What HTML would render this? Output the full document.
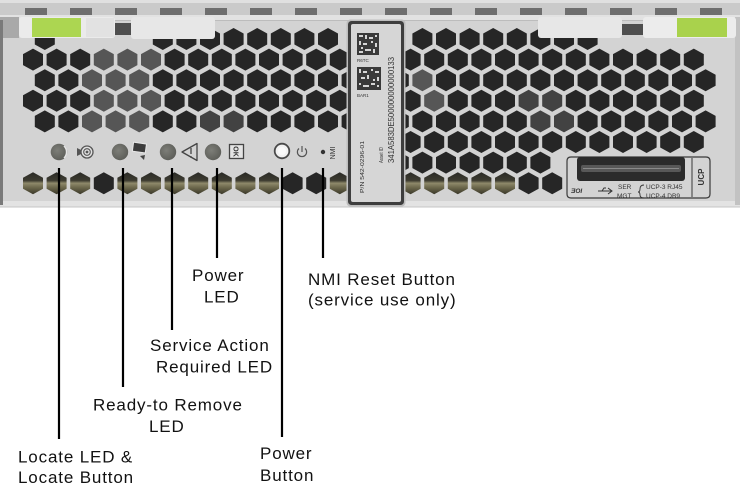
<!DOCTYPE html>
<html><head><meta charset="utf-8"><style>
html,body{margin:0;padding:0;background:#fff;}
svg{display:block;}
</style></head><body>
<svg width="740" height="495" viewBox="0 0 740 495" xmlns="http://www.w3.org/2000/svg">
<defs>
 <path id="h" d="M0,-11L10,-5.5L10,5.5L0,11L-10,5.5L-10,-5.5Z"/>
 <linearGradient id="ol" x1="0" y1="0" x2="0" y2="1">
  <stop offset="0" stop-color="#2a2a26"/>
  <stop offset="0.38" stop-color="#3d3b30"/>
  <stop offset="0.5" stop-color="#8e896a"/>
  <stop offset="0.68" stop-color="#6f6a4e"/>
  <stop offset="1" stop-color="#3a3829"/>
 </linearGradient>
 <radialGradient id="led" cx="0.4" cy="0.4" r="0.65"><stop offset="0" stop-color="#7d7e78"/><stop offset="1" stop-color="#5c5d58"/></radialGradient>
</defs>
<rect width="740" height="495" fill="#fff"/>
<!-- panel body -->
<rect x="0" y="0" width="740" height="202" fill="#d3d3d3"/>
<rect x="0" y="201" width="740" height="6" fill="#e3e3e3"/>
<rect x="0" y="206.5" width="740" height="1" fill="#c4c4c4"/>
<!-- top rail -->
<rect x="0" y="0" width="740" height="17" fill="#cacaca"/>
<rect x="0" y="0" width="740" height="3" fill="#e0e0e0"/>
<g fill="#6e6e6e">
<rect x="25" y="8" width="22" height="7"/><rect x="70" y="8" width="22" height="7"/><rect x="115" y="8" width="22" height="7"/><rect x="160" y="8" width="22" height="7"/><rect x="205" y="8" width="22" height="7"/><rect x="250" y="8" width="22" height="7"/><rect x="295" y="8" width="22" height="7"/><rect x="340" y="8" width="22" height="7"/><rect x="385" y="8" width="22" height="7"/><rect x="430" y="8" width="22" height="7"/><rect x="475" y="8" width="22" height="7"/><rect x="520" y="8" width="22" height="7"/><rect x="565" y="8" width="22" height="7"/><rect x="610" y="8" width="22" height="7"/><rect x="655" y="8" width="22" height="7"/><rect x="700" y="8" width="22" height="7"/>
</g>
<rect x="0" y="15" width="740" height="5" fill="#e2e2e2"/>
<rect x="0" y="20" width="740" height="1" fill="#bcbcbc"/>

<!-- hex holes dark -->
<g fill="#262626">
<use href="#h" x="44.8" y="39"/><use href="#h" x="162.8" y="39"/><use href="#h" x="186.4" y="39"/><use href="#h" x="210" y="39"/><use href="#h" x="233.6" y="39"/><use href="#h" x="257.2" y="39"/><use href="#h" x="280.8" y="39"/><use href="#h" x="304.4" y="39"/><use href="#h" x="328" y="39"/>
<use href="#h" x="422.4" y="39"/><use href="#h" x="446" y="39"/><use href="#h" x="469.6" y="39"/><use href="#h" x="493.2" y="39"/><use href="#h" x="516.8" y="39"/><use href="#h" x="540.4" y="39"/><use href="#h" x="564" y="39"/><use href="#h" x="587.6" y="39"/>

<use href="#h" x="33" y="59.6"/><use href="#h" x="56.6" y="59.6"/><use href="#h" x="80.2" y="59.6"/><use href="#h" x="174.6" y="59.6"/><use href="#h" x="198.2" y="59.6"/><use href="#h" x="221.8" y="59.6"/><use href="#h" x="245.4" y="59.6"/><use href="#h" x="269" y="59.6"/><use href="#h" x="292.6" y="59.6"/><use href="#h" x="316.2" y="59.6"/><use href="#h" x="339.8" y="59.6"/>
<use href="#h" x="410.6" y="59.6"/><use href="#h" x="434.2" y="59.6"/><use href="#h" x="457.8" y="59.6"/><use href="#h" x="481.4" y="59.6"/><use href="#h" x="505" y="59.6"/><use href="#h" x="528.6" y="59.6"/><use href="#h" x="552.2" y="59.6"/><use href="#h" x="575.8" y="59.6"/><use href="#h" x="599.4" y="59.6"/><use href="#h" x="623" y="59.6"/><use href="#h" x="646.6" y="59.6"/><use href="#h" x="670.2" y="59.6"/><use href="#h" x="693.8" y="59.6"/>

<use href="#h" x="44.8" y="80.2"/><use href="#h" x="68.4" y="80.2"/><use href="#h" x="162.8" y="80.2"/><use href="#h" x="186.4" y="80.2"/><use href="#h" x="210" y="80.2"/><use href="#h" x="233.6" y="80.2"/><use href="#h" x="257.2" y="80.2"/><use href="#h" x="280.8" y="80.2"/><use href="#h" x="304.4" y="80.2"/><use href="#h" x="328" y="80.2"/><use href="#h" x="351.6" y="80.2"/>
<use href="#h" x="398.8" y="80.2"/><use href="#h" x="446" y="80.2"/><use href="#h" x="469.6" y="80.2"/><use href="#h" x="493.2" y="80.2"/><use href="#h" x="516.8" y="80.2"/><use href="#h" x="540.4" y="80.2"/><use href="#h" x="564" y="80.2"/><use href="#h" x="587.6" y="80.2"/><use href="#h" x="611.2" y="80.2"/><use href="#h" x="634.8" y="80.2"/><use href="#h" x="658.4" y="80.2"/><use href="#h" x="682" y="80.2"/><use href="#h" x="705.6" y="80.2"/>

<use href="#h" x="33" y="100.8"/><use href="#h" x="56.6" y="100.8"/><use href="#h" x="80.2" y="100.8"/><use href="#h" x="174.6" y="100.8"/><use href="#h" x="198.2" y="100.8"/><use href="#h" x="221.8" y="100.8"/><use href="#h" x="245.4" y="100.8"/><use href="#h" x="269" y="100.8"/><use href="#h" x="292.6" y="100.8"/><use href="#h" x="316.2" y="100.8"/><use href="#h" x="339.8" y="100.8"/>
<use href="#h" x="410.6" y="100.8"/><use href="#h" x="457.8" y="100.8"/><use href="#h" x="481.4" y="100.8"/><use href="#h" x="505" y="100.8"/><use href="#h" x="575.8" y="100.8"/><use href="#h" x="599.4" y="100.8"/><use href="#h" x="623" y="100.8"/><use href="#h" x="646.6" y="100.8"/><use href="#h" x="670.2" y="100.8"/><use href="#h" x="693.8" y="100.8"/>

<use href="#h" x="44.8" y="121.4"/><use href="#h" x="68.4" y="121.4"/><use href="#h" x="162.8" y="121.4"/><use href="#h" x="186.4" y="121.4"/><use href="#h" x="257.2" y="121.4"/><use href="#h" x="280.8" y="121.4"/><use href="#h" x="304.4" y="121.4"/><use href="#h" x="328" y="121.4"/><use href="#h" x="351.6" y="121.4"/>
<use href="#h" x="398.8" y="121.4"/><use href="#h" x="422.4" y="121.4"/><use href="#h" x="446" y="121.4"/><use href="#h" x="469.6" y="121.4"/><use href="#h" x="493.2" y="121.4"/><use href="#h" x="516.8" y="121.4"/><use href="#h" x="587.6" y="121.4"/><use href="#h" x="611.2" y="121.4"/><use href="#h" x="634.8" y="121.4"/><use href="#h" x="658.4" y="121.4"/><use href="#h" x="682" y="121.4"/><use href="#h" x="705.6" y="121.4"/>

<use href="#h" x="410.6" y="142"/><use href="#h" x="434.2" y="142"/><use href="#h" x="457.8" y="142"/><use href="#h" x="481.4" y="142"/><use href="#h" x="505" y="142"/><use href="#h" x="528.6" y="142"/><use href="#h" x="552.2" y="142"/><use href="#h" x="575.8" y="142"/><use href="#h" x="599.4" y="142"/><use href="#h" x="623" y="142"/><use href="#h" x="646.6" y="142"/><use href="#h" x="670.2" y="142"/><use href="#h" x="693.8" y="142"/>

<use href="#h" x="398.8" y="162.6"/><use href="#h" x="422.4" y="162.6"/><use href="#h" x="446" y="162.6"/><use href="#h" x="469.6" y="162.6"/><use href="#h" x="493.2" y="162.6"/><use href="#h" x="516.8" y="162.6"/><use href="#h" x="540.4" y="162.6"/>

<use href="#h" x="103.8" y="183.2"/><use href="#h" x="292.6" y="183.2"/><use href="#h" x="316.2" y="183.2"/><use href="#h" x="528.6" y="183.2"/><use href="#h" x="552.2" y="183.2"/>
</g>
<!-- gray holes -->
<g fill="#565656">
<use href="#h" x="103.8" y="59.6"/><use href="#h" x="127.4" y="59.6"/><use href="#h" x="151" y="59.6"/>
<use href="#h" x="92" y="80.2"/><use href="#h" x="115.6" y="80.2"/><use href="#h" x="139.2" y="80.2"/><use href="#h" x="422.4" y="80.2"/>
<use href="#h" x="103.8" y="100.8"/><use href="#h" x="127.4" y="100.8"/><use href="#h" x="151" y="100.8"/><use href="#h" x="434.2" y="100.8"/>
<use href="#h" x="92" y="121.4"/><use href="#h" x="115.6" y="121.4"/><use href="#h" x="139.2" y="121.4"/>
</g>
<g fill="#424242">
<use href="#h" x="210" y="121.4"/><use href="#h" x="233.6" y="121.4"/>
<use href="#h" x="528.6" y="100.8"/><use href="#h" x="552.2" y="100.8"/>
<use href="#h" x="540.4" y="121.4"/><use href="#h" x="564" y="121.4"/>
</g>
<!-- bottom olive row -->
<g fill="url(#ol)">
<use href="#h" x="33" y="183.2"/><use href="#h" x="56.6" y="183.2"/><use href="#h" x="80.2" y="183.2"/><use href="#h" x="127.4" y="183.2"/><use href="#h" x="151" y="183.2"/><use href="#h" x="174.6" y="183.2"/><use href="#h" x="198.2" y="183.2"/><use href="#h" x="221.8" y="183.2"/><use href="#h" x="245.4" y="183.2"/><use href="#h" x="269" y="183.2"/><use href="#h" x="339.8" y="183.2"/>
<use href="#h" x="410.6" y="183.2"/><use href="#h" x="434.2" y="183.2"/><use href="#h" x="457.8" y="183.2"/><use href="#h" x="481.4" y="183.2"/><use href="#h" x="505" y="183.2"/>
</g>

<!-- left edge -->
<rect x="0" y="17" width="19" height="21" fill="#a9a9a9"/>
<rect x="0" y="20" width="3" height="185" fill="#7a7a7a"/>
<rect x="735" y="17" width="5" height="188" fill="#c2c2c2"/>

<!-- tabs -->
<rect x="19" y="17" width="96" height="21" rx="3" fill="#ebebeb"/>
<rect x="32" y="18" width="49" height="19" fill="#acd651"/>
<rect x="86" y="18" width="28" height="19" fill="#e2e2e2"/>
<rect x="115" y="23" width="16" height="12" fill="#4e4e4e"/>
<rect x="131" y="17" width="84" height="22" rx="3" fill="#e7e7e7"/>
<rect x="538" y="17" width="84" height="21" rx="3" fill="#e7e7e7"/>
<rect x="622" y="24" width="21" height="11" fill="#4e4e4e"/>
<rect x="643" y="17" width="93" height="21" rx="3" fill="#ececec"/>
<rect x="677" y="18" width="50" height="19" fill="#a9d24c"/>

<!-- asset label -->
<rect x="346.5" y="19.5" width="59" height="187" rx="4" fill="#bdbdbd"/>
<rect x="348" y="21" width="56" height="184" rx="3.5" fill="#3e3e3e"/>
<rect x="351" y="24" width="50" height="178" rx="2" fill="#d6d6d6"/>
<rect x="357" y="33" width="22" height="22" fill="#3a3a3a"/>
<g fill="#d6d6d6">
<rect x="359" y="35" width="4" height="2"/><rect x="365" y="35" width="2" height="4"/><rect x="369" y="37" width="4" height="2"/><rect x="375" y="35" width="2" height="2"/>
<rect x="359" y="41" width="2" height="4"/><rect x="363" y="43" width="4" height="2"/><rect x="371" y="41" width="2" height="2"/><rect x="375" y="43" width="2" height="4"/>
<rect x="361" y="47" width="2" height="2"/><rect x="365" y="49" width="6" height="2"/><rect x="373" y="49" width="2" height="4"/><rect x="359" y="51" width="4" height="2"/>
</g>
<rect x="357" y="67" width="24" height="23" fill="#3a3a3a"/>
<g fill="#d6d6d6">
<rect x="359" y="69" width="2" height="4"/><rect x="363" y="71" width="4" height="2"/><rect x="371" y="69" width="2" height="2"/><rect x="375" y="71" width="4" height="2"/>
<rect x="361" y="77" width="4" height="2"/><rect x="367" y="75" width="2" height="4"/><rect x="373" y="79" width="2" height="2"/><rect x="377" y="77" width="2" height="4"/>
<rect x="359" y="83" width="2" height="2"/><rect x="363" y="85" width="6" height="2"/><rect x="371" y="83" width="4" height="2"/><rect x="377" y="85" width="2" height="2"/>
</g>
<g font-family="Liberation Sans, Arial, sans-serif" fill="#333">
<text x="357" y="62" font-size="4.5">R6TC</text>
<text x="357" y="97" font-size="4.5">BAR1</text>
<text transform="translate(364,193) rotate(-90)" font-size="5.5" textLength="52" lengthAdjust="spacingAndGlyphs">P/N 542-0296-01</text>
<text transform="translate(383,163) rotate(-90)" font-size="5.5" textLength="16" lengthAdjust="spacingAndGlyphs">Asset ID</text>
<text transform="translate(394,163) rotate(-90)" font-size="8" textLength="106" lengthAdjust="spacingAndGlyphs">341A583DE500000000000133</text>
</g>

<!-- UCP box -->
<path d="M571,157H706Q710,157 710,161V194Q710,198 706,198H571Q567,198 567,194V161Q567,157 571,157Z" fill="none" stroke="#3a3a3a" stroke-width="1.2"/>
<line x1="692" y1="158" x2="692" y2="197" stroke="#3a3a3a" stroke-width="1"/>
<rect x="577" y="157" width="108" height="24" rx="3" fill="#2b2b2b"/>
<rect x="581" y="165" width="100" height="7" rx="2" fill="#585858"/>
<line x1="583" y1="168.5" x2="679" y2="168.5" stroke="#8a8a8a" stroke-width="1"/>
<g font-family="Liberation Sans, Arial, sans-serif" fill="#333" font-size="6.5">
<text x="571" y="193" font-style="italic" font-weight="bold">ƎOI</text>
<text x="618" y="189">SER</text>
<text x="617" y="198">MGT</text>
<text x="646" y="189">UCP-3 RJ45</text>
<text x="646" y="198">UCP-4 DB9</text>
<text transform="translate(704,177) rotate(-90)" font-size="8" font-weight="bold" text-anchor="middle">UCP</text>
</g>
<path d="M598,191H612M608,188L612,191L608,194M602,191L604,188H606" fill="none" stroke="#333" stroke-width="1"/>
<path d="M644,185Q640,185 640,189Q640,192 638,192Q640,192 640,195Q640,198 644,198" fill="none" stroke="#333" stroke-width="0.9"/>

<!-- LEDs and icons -->
<circle cx="59" cy="152" r="8.3" fill="url(#led)"/>
<path d="M64,146A8.3,8.3 0 0 1 64,158" fill="none" stroke="#e6e6e6" stroke-width="1.5"/>
<polygon points="77,148 82,150.5 82,153.5 77,156" fill="#555"/>
<circle cx="87" cy="152" r="6" fill="#e0e0e0" stroke="#555" stroke-width="1.3"/>
<circle cx="87" cy="152" r="3.3" fill="none" stroke="#555" stroke-width="1.1"/>
<circle cx="87" cy="152" r="1.4" fill="#555"/>

<circle cx="120" cy="152" r="8.2" fill="url(#led)"/>
<rect x="133" y="143" width="13" height="9" fill="#3c3c3c" stroke="#e8e8e8" stroke-width="1" transform="rotate(8 139 147)"/>
<polygon points="140,156 145,155 144,160" fill="#444"/>

<circle cx="168" cy="152" r="8.2" fill="url(#led)"/>
<polygon points="182,152 197,143.5 197,160.5" fill="none" stroke="#444" stroke-width="1.3" stroke-linejoin="round"/>
<line x1="191" y1="148" x2="191" y2="154" stroke="#444" stroke-width="1.3"/>
<circle cx="191" cy="157" r="0.9" fill="#444"/>

<circle cx="213" cy="152" r="8.2" fill="url(#led)"/>
<rect x="229.5" y="144.5" width="14" height="14" fill="#e4e4e4" stroke="#444" stroke-width="1.3"/>
<text transform="translate(233.5,151.5) rotate(90)" font-family="Liberation Sans, Arial, sans-serif" font-size="7" font-weight="bold" fill="#333" text-anchor="middle">OK</text>

<circle cx="282" cy="151" r="7.3" fill="#f2f2f2" stroke="#4a4a4a" stroke-width="1.8"/>
<circle cx="282" cy="151" r="4" fill="#fafafa"/>
<path d="M299,148.5A4.6,4.6 0 1 0 305,148.5" fill="none" stroke="#555" stroke-width="1.2"/>
<line x1="302" y1="146" x2="302" y2="152" stroke="#555" stroke-width="1.2"/>

<circle cx="323" cy="152" r="2.2" fill="#333"/>
<text transform="translate(335,153) rotate(-90)" font-family="Liberation Sans, Arial, sans-serif" font-size="7" fill="#333" text-anchor="middle">NMI</text>

<!-- leader lines -->
<g stroke="#000" stroke-width="2.2">
<line x1="59" y1="168" x2="59" y2="439"/>
<line x1="123" y1="168" x2="123" y2="387"/>
<line x1="172" y1="168" x2="172" y2="330"/>
<line x1="217" y1="168" x2="217" y2="258"/>
<line x1="282" y1="168" x2="282" y2="437"/>
<line x1="323" y1="168" x2="323" y2="258"/>
</g>

<!-- labels -->
<g font-family="Liberation Sans, Arial, sans-serif" font-size="17" fill="#111" letter-spacing="0.85">
<text x="192" y="281">Power</text>
<text x="204" y="302.7">LED</text>
<text x="308" y="285">NMI Reset Button</text>
<text x="308" y="305.5">(service use only)</text>
<text x="150" y="351">Service Action</text>
<text x="156" y="372.7">Required LED</text>
<text x="93" y="410.7">Ready-to Remove</text>
<text x="149" y="432">LED</text>
<text x="18" y="462.7">Locate LED &amp;</text>
<text x="18" y="483">Locate Button</text>
<text x="260" y="459">Power</text>
<text x="260" y="481">Button</text>
</g>
</svg>
</body></html>
